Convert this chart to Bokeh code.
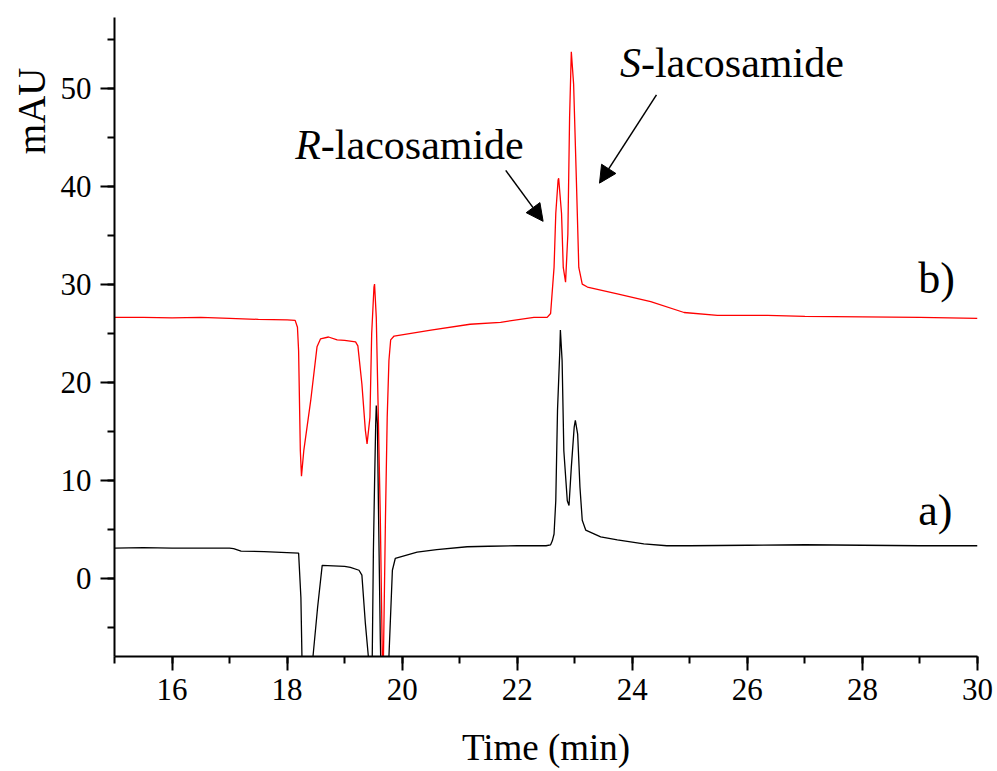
from bokeh.plotting import figure
from bokeh.models import Range1d, SingleIntervalTicker, Arrow, NormalHead, Title
from bokeh.core.properties import value
from bokeh.embed import file_html
from bokeh.resources import INLINE

# ---- data ----
time_a = [15.0, 15.5, 16.0, 16.5, 17.0, 17.07, 17.2, 17.6, 18.0, 18.2, 18.24, 18.27, 18.43, 18.45,
          18.53, 18.61, 18.8, 19.0, 19.1, 19.25, 19.30, 19.36, 19.42, 19.47, 19.48, 19.50, 19.52,
          19.54, 19.55, 19.57, 19.59, 19.62, 19.64, 19.76, 19.77, 19.83, 19.88, 20.26, 20.6,
          21.13, 21.5, 22.0, 22.5, 22.58, 22.61, 22.64, 22.67, 22.70, 22.74, 22.75, 22.78,
          22.81, 22.87, 22.90, 22.94, 22.99, 23.01, 23.05, 23.09, 23.13, 23.19, 23.45, 23.74,
          24.2, 24.6, 25.0, 26.0, 27.0, 28.0, 29.0, 30.0]
signal_a = [3.05, 3.1, 3.05, 3.05, 3.05, 3.0, 2.75, 2.7, 2.6, 2.55, -2.0, -12.0, -12.0, -8.0,
            -3.0, 1.3, 1.25, 1.2, 1.1, 0.8, 0.3, -4.6, -8.5, -12.0, -8.0, 2.8, 9.6,
            15.7, 17.6, 15.7, 6.2, -6.2, -12.0, -12.0, -8.0, 0.8, 2.0, 2.65, 2.9,
            3.2, 3.25, 3.3, 3.3, 3.4, 3.8, 4.5, 7.9, 17.1, 23.2, 25.3, 22.2,
            13.0, 7.9, 7.4, 11.3, 15.4, 16.1, 14.7, 9.3, 5.9, 4.9, 4.2, 3.9,
            3.5, 3.3, 3.3, 3.35, 3.4, 3.35, 3.3, 3.3]

time_b = [15.0, 15.5, 16.0, 16.5, 17.0, 17.5, 18.0, 18.14, 18.18, 18.20, 18.23, 18.25, 18.29,
          18.41, 18.52, 18.58, 18.72, 18.87, 19.0, 19.19, 19.23, 19.30, 19.36, 19.39, 19.44,
          19.47, 19.51, 19.52, 19.55, 19.58, 19.62, 19.66, 19.67, 19.71, 19.74, 19.77, 19.80,
          19.86, 20.5, 21.18, 21.71, 22.29, 22.52, 22.58, 22.64, 22.67, 22.71, 22.72, 22.77,
          22.80, 22.84, 22.88, 22.91, 22.94, 22.98, 23.03, 23.07, 23.13, 23.22, 23.74, 24.32,
          24.9, 25.48, 26.35, 27.0, 28.0, 29.0, 30.0]
signal_b = [26.6, 26.6, 26.55, 26.6, 26.5, 26.4, 26.35, 26.3, 25.6, 23.2, 13.0, 10.4, 13.0,
            18.1, 23.6, 24.4, 24.6, 24.3, 24.25, 24.1, 23.7, 19.8, 15.1, 13.7, 16.4,
            24.9, 29.7, 30.0, 26.6, 18.1, 6.2, -10.0, -10.0, 6.2, 16.4, 22.2, 24.3,
            24.7, 25.3, 25.9, 26.1, 26.6, 26.6, 27.0, 31.7, 37.2, 40.6, 40.8, 37.2,
            31.7, 30.2, 35.1, 47.0, 53.7, 50.4, 40.2, 31.7, 30.0, 29.7, 29.0, 28.2,
            27.1, 26.8, 26.8, 26.7, 26.65, 26.6, 26.5]

# annotation anchors (data units)
label_names = ["R", "S"]
label_rest = ["-lacosamide", "-lacosamide"]
label_x = [18.14, 23.785]
label_y = [44.2, 52.6]
label_rest_offset = [25.7, 21.0]
arrow_start_x = [21.80, 24.42]
arrow_start_y = [41.6, 49.3]
arrow_end_x = [22.45, 23.43]
arrow_end_y = [36.4, 40.3]
trace_tags = ["a)", "b)"]
trace_tag_x = [28.97, 28.97]
trace_tag_y = [6.9, 30.6]

FONT = "Liberation Serif"

p = figure(width=997, height=771, output_backend="svg", toolbar_location=None,
           x_range=Range1d(15, 30), y_range=Range1d(-8, 57.2),
           min_border_left=114, min_border_right=20, min_border_top=17, min_border_bottom=115)
p.outline_line_color = None
p.grid.visible = False
p.background_fill_color = "white"

p.line(time_a, signal_a, line_color="black", line_width=1.3)
p.line(time_b, signal_b, line_color="#ff0000", line_width=1.3)

p.xaxis.ticker = SingleIntervalTicker(interval=2, num_minor_ticks=2)
p.yaxis.ticker = SingleIntervalTicker(interval=10, num_minor_ticks=2)

for ax in (p.xaxis, p.yaxis):
    ax.axis_line_width = 2
    ax.axis_line_color = "black"
    ax.major_tick_line_width = 2
    ax.minor_tick_line_width = 2
    ax.major_tick_in = 0
    ax.major_tick_out = 14
    ax.minor_tick_in = 0
    ax.minor_tick_out = 7
    ax.major_label_text_font = FONT
    ax.major_label_text_font_size = "31px"
    ax.major_label_text_color = "black"

p.xaxis.major_label_standoff = 8
p.yaxis.major_label_standoff = 9
p.xaxis.axis_label = "Time (min)"
p.xaxis.axis_label_text_font = FONT
p.xaxis.axis_label_text_font_size = "37px"
p.xaxis.axis_label_text_font_style = "normal"
p.xaxis.axis_label_text_color = "black"
p.xaxis.axis_label_standoff = 24

p.add_layout(Title(text="mAU", align="right", offset=50, text_font=FONT,
                   text_font_size="39px", text_font_style="normal", text_color="black",
                   standoff=10), "left")

p.text(x=label_x, y=label_y, text=label_names, text_font=value(FONT),
       text_font_size="42px", text_font_style="italic", text_color="black",
       text_baseline="alphabetic", text_align="left")
p.text(x=label_x, y=label_y, text=label_rest, x_offset=label_rest_offset,
       text_font=value(FONT), text_font_size="42px", text_color="black",
       text_baseline="alphabetic", text_align="left")

for sx, sy, ex, ey in zip(arrow_start_x, arrow_start_y, arrow_end_x, arrow_end_y):
    p.add_layout(Arrow(x_start=sx, y_start=sy, x_end=ex, y_end=ey, line_width=1.5,
                       line_color="black",
                       end=NormalHead(size=17, fill_color="black", line_color="black", line_width=1)))

p.text(x=trace_tag_x, y=trace_tag_y, text=trace_tags, text_font=value(FONT),
       text_font_size="44px", text_color="black", text_baseline="alphabetic",
       text_align="left")

open("out.html", "w").write(file_html(p, INLINE))
